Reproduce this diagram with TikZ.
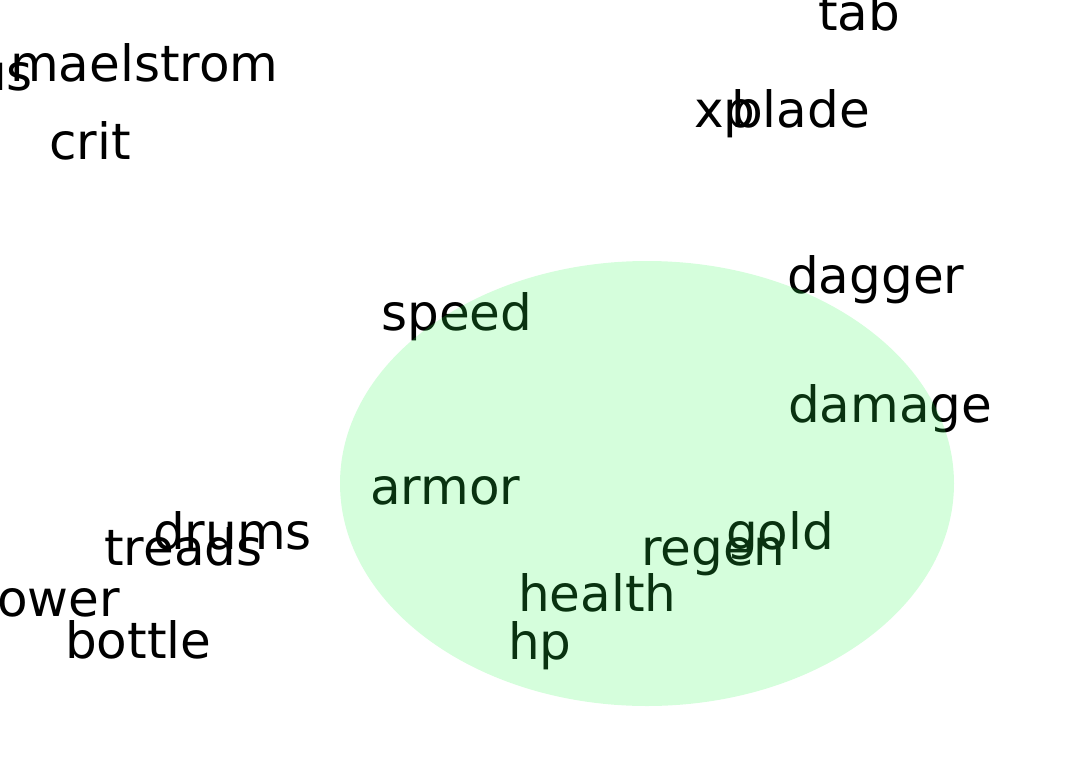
\documentclass[tikz,border=0pt]{standalone}
\usepackage{fontspec}
\setmainfont{DejaVu Sans}
\usepackage{xcolor}
\usepackage{tikz}
\usetikzlibrary{shapes.geometric}
\definecolor{blobgreen}{RGB}{45, 250, 80}

\begin{document}
\begin{tikzpicture}[
    x=1pt, y=-1pt,
    word/.style={anchor=base west, inner sep=0pt, text=black,
                 font=\fontsize{50}{60}\selectfont},
    blob/.style={ellipse, draw=none, fill=blobgreen, fill opacity=0.2,
                 inner sep=0pt}
]
\useasboundingbox (0,0) rectangle (1069,758);
\clip (0,0) rectangle (1069,758);

%% ── TOP LEFT ────────────────────────────────────────────────────────────────
\node[word] (us)        at (-25, 90)  {us};
\node[word] (maelstrom) at (10, 81)   {maelstrom};
\node[word] (crit)      at (49, 159)  {crit};

%% ── TOP RIGHT ───────────────────────────────────────────────────────────────
\node[word] (tab)    at (818, 30)  {tab};
\node[word] (xp)     at (694, 127) {xp};
\node[word] (blade)  at (731, 127) {blade};
\node[word] (dagger) at (787, 293) {dagger};

%% ── BOTTOM LEFT ─────────────────────────────────────────────────────────────
\node[word] (drums)  at (153, 549) {drums};
\node[word] (treads) at (104, 565) {treads};
\node[word] (ower)   at (-3, 616)  {ower};
\node[word] (bottle) at (65, 658)  {bottle};

%% ── CLUSTER ─────────────────────────────────────────────────────────────────
\node[word] (speed)  at (381, 330) {speed};
\node[word] (damage) at (788, 422) {damage};
\node[word] (armor)  at (370, 504) {armor};
\node[word] (gold)   at (726, 549) {gold};
\node[word] (regen)  at (641, 565) {regen};
\node[word] (health) at (518, 611) {health};
\node[word] (hp)     at (508, 659) {hp};

% tinted blob laid over the words
\node[blob, minimum width=614pt, minimum height=445pt] (cluster) at (647, 483.5) {};

\end{tikzpicture}
\end{document}
